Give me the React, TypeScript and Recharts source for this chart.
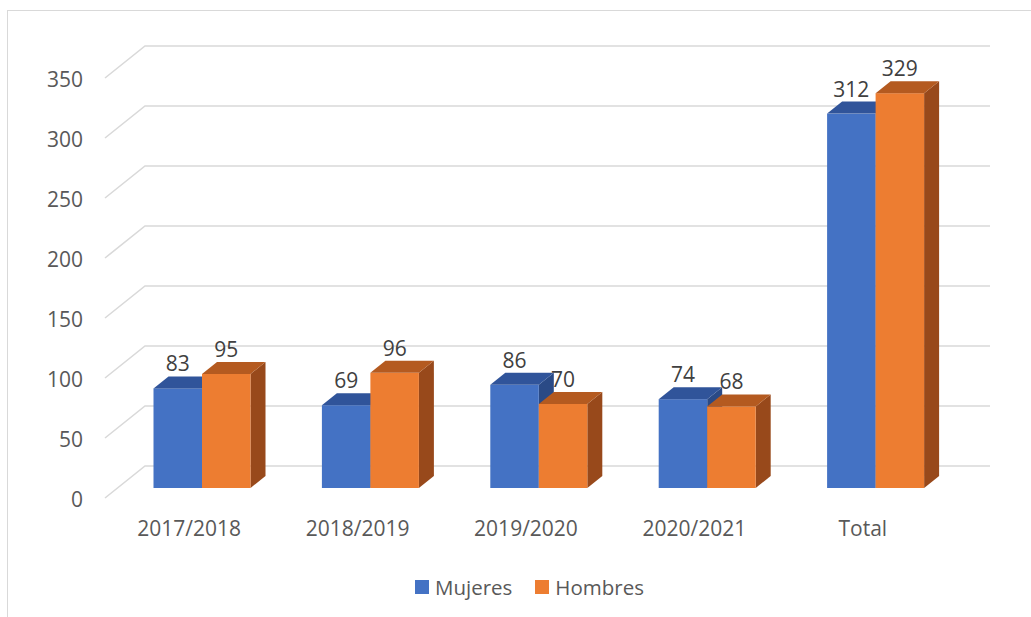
import React from 'react';
import { BarChart, Bar, XAxis, YAxis, CartesianGrid, LabelList } from 'recharts';

const categories = ['2017/2018', '2018/2019', '2019/2020', '2020/2021', 'Total'];
const mujeres = [83, 69, 86, 74, 312];
const hombres = [95, 96, 70, 68, 329];
const yTicks = [0, 50, 100, 150, 200, 250, 300, 350];
const seriesNames = ['Mujeres', 'Hombres'];

const data = categories.map((c, i) => ({ name: c, Mujeres: mujeres[i], Hombres: hombres[i] }));

const FONT = '"Open Sans", sans-serif';
const BAR_DX = 15;
const BAR_DY = 12;
const FRONT_DX = -12.5;
const FRONT_DY = 10;
const BACK_DX = 27.5;
const BACK_DY = -22;

const palette = {
  Mujeres: { front: '#4472C4', top: '#30549A', side: '#2A4A86' },
  Hombres: { front: '#ED7D31', top: '#B45A20', side: '#98491B' },
};

const make3D = (colors: { front: string; top: string; side: string }) => (props: any) => {
  const { x, y, width, height } = props;
  if (width == null || height == null) return null;
  const top = `M${x},${y} L${x + BAR_DX},${y - BAR_DY} L${x + width + BAR_DX},${y - BAR_DY} L${x + width},${y} Z`;
  const side = `M${x + width},${y} L${x + width + BAR_DX},${y - BAR_DY} L${x + width + BAR_DX},${y + height - BAR_DY} L${x + width},${y + height} Z`;
  return (
    <g>
      <path d={side} fill={colors.side} />
      <rect x={x} y={y} width={width} height={height} fill={colors.front} />
      <path d={top} fill={colors.top} />
    </g>
  );
};

const gridLine = (props: any) => {
  const { x1, x2, y1 } = props;
  const d = `M${x1 + FRONT_DX},${y1 + FRONT_DY} L${x1 + BACK_DX},${y1 + BACK_DY} L${x2 + BACK_DX + 3},${y1 + BACK_DY}`;
  return <path key={props.key ?? `g-${y1}`} d={d} stroke="#d9d9d9" strokeWidth={1.6} fill="none" />;
};

const XTick = (props: any) => {
  const { x, y, payload } = props;
  return (
    <text x={x + FRONT_DX} y={y + 40} textAnchor="middle" dominantBaseline="central" fill="#595959" fontSize={21} fontFamily={FONT}>
      {payload.value}
    </text>
  );
};

const YTick = (props: any) => {
  const { x, y, payload } = props;
  return (
    <text x={x - 34.5} y={y + FRONT_DY + 1} textAnchor="end" dominantBaseline="central" fill="#595959" fontSize={21} fontFamily={FONT}>
      {payload.value}
    </text>
  );
};

const DataLabel = (props: any) => {
  const { x, y, width, value } = props;
  return (
    <text x={x + width / 2} y={y - 25} textAnchor="middle" dominantBaseline="central" fill="#404040" fontSize={21} fontFamily={FONT}>
      {value}
    </text>
  );
};

export default function App() {
  return (
    <div style={{ position: 'absolute', left: 0, top: 0, width: 1031, height: 617, overflow: 'hidden', background: '#fff' }}>
      <div style={{ position: 'absolute', left: 7, top: 10, width: 1100, height: 700, border: '1.5px solid #d9d9d9', boxSizing: 'border-box' }} />
      <div style={{ position: 'absolute', left: 0, top: 0 }}>
        <BarChart width={1031} height={617} data={data} margin={{ top: 68, right: 71.5, bottom: 89, left: 0 }} barSize={48.5} barGap={0}>
          <CartesianGrid vertical={false} horizontal={gridLine} />
          <XAxis dataKey="name" height={40} axisLine={false} tickLine={false} tickSize={0} tickMargin={0} tick={<XTick />} interval={0} />
          <YAxis width={117.5} domain={[0, 350]} ticks={yTicks} axisLine={false} tickLine={false} tickSize={0} tickMargin={0} tick={<YTick />} />
          <Bar dataKey="Mujeres" isAnimationActive={false} shape={make3D(palette.Mujeres)}>
            <LabelList dataKey="Mujeres" content={<DataLabel />} />
          </Bar>
          <Bar dataKey="Hombres" isAnimationActive={false} shape={make3D(palette.Hombres)}>
            <LabelList dataKey="Hombres" content={<DataLabel />} />
          </Bar>
        </BarChart>
      </div>
      <div style={{ position: 'absolute', left: 415, top: 573, height: 28, display: 'flex', alignItems: 'center', fontFamily: FONT, fontSize: 20.5, color: '#595959' }}>
        {seriesNames.map((n, i) => (
          <div key={n} style={{ display: 'flex', alignItems: 'center', marginRight: i === 0 ? 23 : 0 }}>
            <div style={{ width: 14, height: 14, background: palette[n as 'Mujeres' | 'Hombres'].front, marginRight: 6 }} />
            <span>{n}</span>
          </div>
        ))}
      </div>
    </div>
  );
}
